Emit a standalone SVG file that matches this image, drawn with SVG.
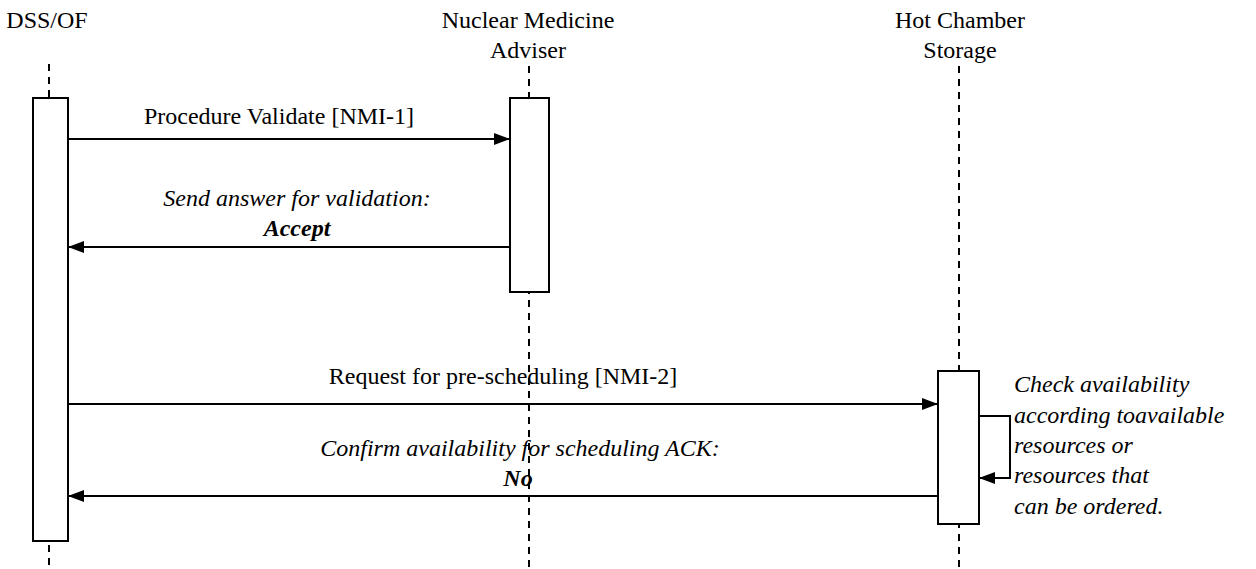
<svg xmlns="http://www.w3.org/2000/svg" width="1256" height="569" viewBox="0 0 1256 569">
  <style>
    .label { font-family: "Liberation Serif", Tinos, "Times New Roman", serif; font-size: 24px; fill: #000; }
    .mid { text-anchor: middle; }
    .it { font-style: italic; }
    .bold { font-weight: bold; }
    .lifeline { stroke: #000; stroke-width: 2; stroke-dasharray: 7 6; fill: none; }
    .activation { fill: #fff; stroke: #000; stroke-width: 2; }
    .message { stroke: #000; stroke-width: 2; fill: none; marker-end: url(#arrow); }
  </style>
  <defs>
    <marker id="arrow" markerWidth="16" markerHeight="12" refX="16" refY="6" orient="auto" markerUnits="userSpaceOnUse">
      <path d="M0,0 L16,6 L0,12 Z" fill="#000"/>
    </marker>
  </defs>

  <!-- DSS/OF lifeline -->
  <g id="dss-of">
    <text class="label mid" x="47" y="28">DSS/OF</text>
    <line class="lifeline" x1="49" y1="64" x2="49" y2="569"/>
    <rect class="activation" x="33" y="98" width="35" height="443"/>
  </g>

  <!-- Nuclear Medicine Adviser lifeline -->
  <g id="nm-adviser">
    <text class="label mid" x="528" y="28">Nuclear Medicine</text>
    <text class="label mid" x="528" y="58">Adviser</text>
    <line class="lifeline" x1="529" y1="66" x2="529" y2="569"/>
    <rect class="activation" x="510" y="98" width="39" height="194"/>
  </g>

  <!-- Hot Chamber Storage lifeline -->
  <g id="hot-chamber">
    <text class="label mid" x="960" y="28">Hot Chamber</text>
    <text class="label mid" x="960" y="58">Storage</text>
    <line class="lifeline" x1="959" y1="66" x2="959" y2="569"/>
    <rect class="activation" x="938" y="371" width="41" height="153"/>
  </g>

  <!-- messages -->
  <g id="connectors">
    <line class="message" x1="68" y1="139" x2="510" y2="139"/>
    <line class="message" x1="510" y1="247" x2="68" y2="247"/>
    <line class="message" x1="68" y1="404" x2="938" y2="404"/>
    <line class="message" x1="938" y1="496" x2="68" y2="496"/>
    <polyline class="message" points="979,416 1010,416 1010,478 979,478"/>
  </g>

  <!-- message labels -->
  <g id="labels">
    <text class="label mid" x="279" y="124">Procedure Validate [NMI-1]</text>
    <text class="label mid it" x="297" y="206">Send answer for validation:</text>
    <text class="label mid it bold" x="297" y="236">Accept</text>
    <text class="label mid" x="503" y="384">Request for pre-scheduling [NMI-2]</text>
    <text class="label mid it" x="520" y="456">Confirm availability for scheduling ACK:</text>
    <text class="label mid it bold" x="518" y="486">No</text>
    <text class="label it" x="1014" y="392">Check availability</text>
    <text class="label it" x="1014" y="423">according toavailable</text>
    <text class="label it" x="1014" y="453">resources or</text>
    <text class="label it" x="1014" y="483">resources that</text>
    <text class="label it" x="1014" y="514">can be ordered.</text>
  </g>
</svg>
